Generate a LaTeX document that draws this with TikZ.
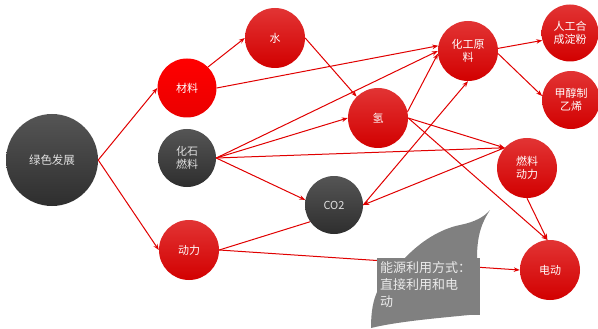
\documentclass[tikz,border=0pt]{standalone}
\usepackage{fontspec}
\usepackage{tikz}
\usetikzlibrary{arrows.meta}
\setmainfont{Noto Sans CJK SC}
\newfontfamily\cjk{Noto Sans CJK SC}
\definecolor{redtop}{HTML}{E23434}
\definecolor{redbot}{HTML}{D20000}
\definecolor{greytop}{HTML}{555555}
\definecolor{greybot}{HTML}{2E2E2E}
\definecolor{linkred}{HTML}{E00000}
\definecolor{notegrey}{HTML}{808080}
\newcommand{\zi}{\cjk\fontsize{11}{13.5}\selectfont}

\begin{document}
\begin{tikzpicture}[x=1pt,y=-1pt,
    hub/.style={circle, minimum size=60pt, inner sep=0pt, align=center,
      font=\zi, text=white, top color=redtop, bottom color=redbot},
    dark/.style={hub, top color=greytop, bottom color=greybot, text=black!12},
    link/.style={draw=linkred, line width=1pt, -{Stealth[length=6pt,width=4.5pt]}},
    plain/.style={draw=linkred, line width=1pt}]
    \useasboundingbox (0,0) rectangle (598,329);

    \node[dark, minimum size=92pt, font=\cjk\fontsize{11.5}{14}\selectfont] (lvse) at (52,160) {绿色发展};
    \node[hub, minimum size=59pt, top color=red, bottom color=red!92!black] (cailiao) at (187,88) {材料};
    \node[dark, minimum size=58pt] (huashi) at (187,158) {化石\\燃料};
    \node[hub] (dongli) at (189,250) {动力};
    \node[hub] (shui) at (275,38) {水};
    \node[hub] (qing) at (378,118) {氢};
    \node[dark, minimum size=58pt] (co2) at (334,205) {CO2};
    \node[hub] (huagong) at (468,51) {化工原\\料};
    \node[hub, minimum size=57pt] (dianfen) at (570,33) {人工合\\成淀粉};
    \node[hub, minimum size=58pt] (yixi) at (571,100) {甲醇制\\乙烯};
    \node[hub] (ranliao) at (527,168) {燃料\\动力};
    \node[hub] (diandong) at (550,270) {电动};

    \draw[link] (lvse.east) -- (cailiao.west);
    \draw[link] (lvse.east) -- (dongli.west);
    \draw[link] (cailiao.45) -- (shui.west);
    \draw[link] (cailiao.east) -- (huagong.170);
    \draw[link] (shui.east) -- (qing.135);
    \draw[link] (huashi.east) -- (huagong.west);
    \draw[link] (huashi.east) -- (qing.west);
    \draw[link] (huashi.east) -- (ranliao.138);
    \draw[link] (huashi.east) -- (co2.170);
    \draw[link] (qing.12) -- (huagong.185);
    \draw[link] (qing.east) -- (ranliao.138);
    \draw[link] (qing.east) -- (diandong.95);
    \draw[link] (ranliao.south) -- (diandong.95);
    \draw[link] (ranliao.138) -- (co2.east);
    \draw[link] (co2.east) -- (huagong.south);
    \draw[plain] (dongli.east) -- (co2.215);
    \draw[link] (dongli.east) -- (diandong.west);
    \draw[link] (huagong.5) -- (dianfen.195);
    \draw[link] (huagong.355) -- (yixi.172);

    % callout
    \fill[notegrey] (490,210) .. controls (482,222) and (477,235) .. (477,258)
      -- (479,314) .. controls (440,318) and (400,321) .. (371,328)
      .. controls (371,312) and (373,300) .. (378,290)
      -- (405,258) .. controls (420,242) and (440,229) .. (460,225)
      .. controls (475,222) and (484,217) .. cycle;
    \node[fill=notegrey, minimum width=103pt, minimum height=57pt, inner sep=0pt,
      anchor=north west] (note) at (377,258) {};
    \node[anchor=north west, inner sep=0pt, align=left, text=black!8,
      font=\cjk\fontsize{13}{17}\selectfont] (notetext) at (380,261)
      {能源利用方式：\\直接利用和电\\动};
\end{tikzpicture}
\end{document}
